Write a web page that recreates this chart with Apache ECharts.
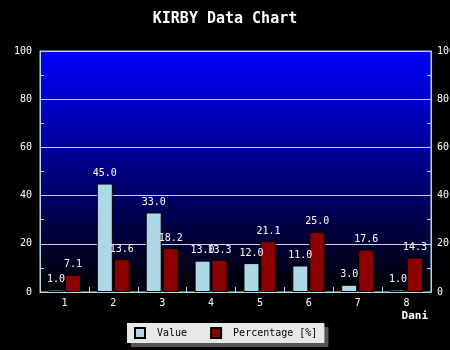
<!DOCTYPE html>
<html>
<head>
<meta charset="utf-8">
<script src="https://cdn.jsdelivr.net/npm/echarts@6/dist/echarts.min.js"></script>
<style>html,body{margin:0;padding:0;background:#000;}#c{width:450px;height:350px;}</style>
</head>
<body>
<div id="c"></div>
<script>
var categories = ['1','2','3','4','5','6','7','8'];
var valueData = [1.0, 45.0, 33.0, 13.0, 12.0, 11.0, 3.0, 1.0];
var percentData = [7.1, 13.6, 18.2, 13.3, 21.1, 25.0, 17.6, 14.3];
var yTicks = [0, 20, 40, 60, 80, 100];

var FONT = 'DejaVu Sans Mono';
var chart = echarts.init(document.getElementById('c'));
function yAxisDef(pos) {
  return {
    type: 'value', position: pos, min: yTicks[0], max: yTicks[yTicks.length-1], interval: 20,
    axisLine: {show: true, lineStyle: {color: '#add8e6'}},
    axisTick: {show: true, inside: true, length: 4, lineStyle: {color: '#add8e6'}},
    minorTick: {show: true, splitNumber: 2, length: 4, lineStyle: {color: '#add8e6'}},
    axisLabel: {color: '#fff', fontFamily: FONT, fontSize: 10, margin: pos === 'left' ? 8 : 6},
    splitLine: {show: pos === 'left', lineStyle: {color: '#c8d0e0', width: 1}}
  };
}
function labelDef() {
  return {show: true, position: 'top', distance: 5, color: '#fff', fontFamily: FONT, fontSize: 10,
    formatter: function(p){ return p.value.toFixed(1); }};
}
chart.setOption({
  backgroundColor: '#000',
  animation: false,
  title: {text: 'KIRBY Data Chart', left: 'center', top: 7,
    textStyle: {color: '#fff', fontFamily: FONT, fontSize: 15, fontWeight: 'bold'}},
  grid: {left: 40, right: 19, top: 51, bottom: 58, show: true, borderColor: '#add8e6', borderWidth: 1,
    outerBoundsMode: 'none', containLabel: false,
    backgroundColor: new echarts.graphic.LinearGradient(0, 0, 0, 1, [
      {offset: 0, color: '#0000ff'}, {offset: 1, color: '#000000'}])},
  legend: {left: 127, top: 323, orient: 'horizontal', itemWidth: 10, itemHeight: 10, itemGap: 23,
    padding: [4, 7, 4, 7], backgroundColor: '#e8e8e8', borderColor: '#e8e8e8',
    shadowColor: '#555', shadowOffsetX: 4, shadowOffsetY: 4, shadowBlur: 0,
    icon: 'rect',
    textStyle: {color: '#000', fontFamily: FONT, fontSize: 10, padding: [0, 0, 0, 7]},
    data: ['Value', 'Percentage [%]']},
  xAxis: {type: 'category', data: categories,
    name: 'Dani', nameLocation: 'end', nameGap: -3,
    nameTextStyle: {color: '#fff', fontFamily: FONT, fontSize: 11, fontWeight: 'bold', align: 'right', verticalAlign: 'top', padding: [19, 0, 0, 0]},
    axisLine: {show: true, lineStyle: {color: '#add8e6'}},
    axisTick: {show: true, inside: true, length: 5, lineStyle: {color: '#add8e6'}},
    axisLabel: {color: '#fff', fontFamily: FONT, fontSize: 10, margin: 6}},
  yAxis: [yAxisDef('left'), yAxisDef('right')],
  series: [
    {name: 'Value', type: 'bar', data: valueData, barWidth: 16, barGap: '6%',
      itemStyle: {color: '#add8e6', borderColor: '#000', borderWidth: 1}, label: labelDef()},
    {name: 'Percentage [%]', type: 'bar', data: percentData, barWidth: 16, barGap: '6%',
      itemStyle: {color: '#8b0000', borderColor: '#000', borderWidth: 1}, label: labelDef()}
  ]
});
</script>
</body>
</html>
